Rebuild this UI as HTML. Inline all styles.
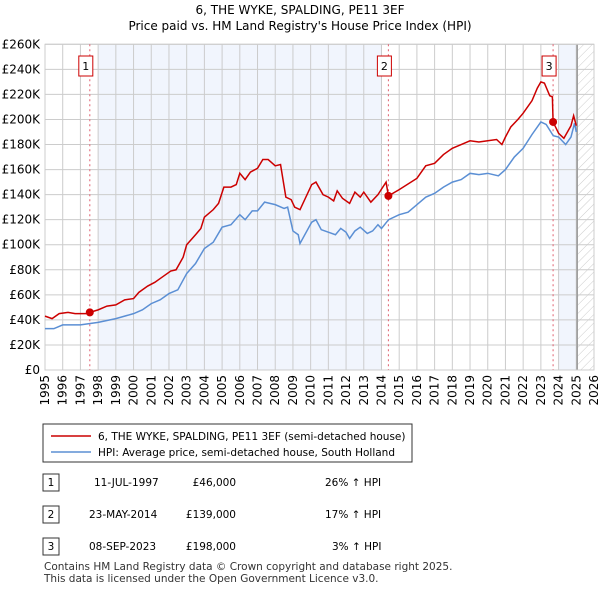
<!DOCTYPE html>
<html><head><meta charset="utf-8"><style>
body{margin:0;background:#fff;font-family:"Liberation Sans","DejaVu Sans",sans-serif;}
svg text{font-family:"DejaVu Sans","Liberation Sans",sans-serif;}
</style></head><body>
<svg id="c" width="600" height="590" xmlns="http://www.w3.org/2000/svg">
<defs><pattern id="h" width="6" height="6" patternUnits="userSpaceOnUse" patternTransform="rotate(45)"><line x1="0" y1="0" x2="0" y2="6" stroke="#ccc" stroke-width="1"/></pattern></defs>
<text x="300" y="14" text-anchor="middle" font-size="12">6, THE WYKE, SPALDING, PE11 3EF</text>
<text x="300" y="30" text-anchor="middle" font-size="12">Price paid vs. HM Land Registry's House Price Index (HPI)</text>
<g id="plot"></g>
<rect x="43" y="424" width="369" height="38" fill="#fff" stroke="#333"/>
<line x1="51" y1="436" x2="91" y2="436" stroke="#cc0000" stroke-width="1.5"/>
<text x="98" y="440" font-size="10.5">6, THE WYKE, SPALDING, PE11 3EF (semi-detached house)</text>
<line x1="51" y1="452" x2="91" y2="452" stroke="#5b8fd4" stroke-width="1.5"/>
<text x="98" y="456" font-size="10.5">HPI: Average price, semi-detached house, South Holland</text>
<g font-size="10.5">
<rect x="43" y="474" width="16" height="17" fill="#fff" stroke="#333"/><text x="51" y="486" text-anchor="middle">1</text>
<text x="94" y="486">11-JUL-1997</text><text x="236" y="486" text-anchor="end">£46,000</text><text x="325" y="486">26% ↑ HPI</text>
<rect x="43" y="506" width="16" height="17" fill="#fff" stroke="#333"/><text x="51" y="518" text-anchor="middle">2</text>
<text x="89" y="518">23-MAY-2014</text><text x="236" y="518" text-anchor="end">£139,000</text><text x="325" y="518">17% ↑ HPI</text>
<rect x="43" y="538" width="16" height="17" fill="#fff" stroke="#333"/><text x="51" y="550" text-anchor="middle">3</text>
<text x="89" y="550">08-SEP-2023</text><text x="236" y="550" text-anchor="end">£198,000</text><text x="332" y="550">3% ↑ HPI</text>
</g>
<text x="44" y="570" font-size="10.5" fill="#333">Contains HM Land Registry data © Crown copyright and database right 2025.</text>
<text x="44" y="582" font-size="10.5" fill="#333">This data is licensed under the Open Government Licence v3.0.</text>
</svg>
<script>
const priceYears=[1995,1995.4,1995.8,1996.3,1996.7,1997.3,1997.53,1998,1998.5,1999,1999.5,2000,2000.3,2000.8,2001.2,2001.6,2002.1,2002.4,2002.8,2003,2003.5,2003.8,2004,2004.5,2004.8,2005.1,2005.5,2005.8,2006,2006.3,2006.6,2007,2007.3,2007.6,2008,2008.3,2008.6,2008.9,2009.1,2009.4,2010.06,2010.3,2010.7,2011,2011.3,2011.5,2011.8,2012.2,2012.5,2012.8,2013,2013.4,2013.8,2014.26,2014.39,2015,2016,2016.5,2017,2017.5,2018,2018.5,2019,2019.5,2020,2020.5,2020.8,2021,2021.3,2021.7,2022,2022.5,2022.8,2023,2023.2,2023.5,2023.65,2023.69,2024,2024.3,2024.7,2024.85,2025];
const priceVals=[43,41,45,46,45,45,46,48,51,52,56,57,62,67,70,74,79,80,90,100,108,113,122,128,133,146,146,148,157,152,158,161,168,168,163,164,138,136,130,128,148,150,140,138,135,143,137,133,142,138,142,134,140,150,139,144,153,163,165,172,177,180,183,182,183,184,180,186,194,200,205,215,225,230,229,219,218,198,189,185,195,203,195];
const hpiYears=[1995,1995.5,1996,1997,1997.5,1998,1999,2000,2000.5,2001,2001.5,2002,2002.5,2003,2003.5,2004,2004.5,2005,2005.5,2006,2006.3,2006.7,2007,2007.4,2007.7,2008,2008.5,2008.7,2009,2009.3,2009.4,2010.06,2010.3,2010.6,2011,2011.4,2011.7,2012,2012.2,2012.5,2012.8,2013.2,2013.5,2013.8,2014,2014.4,2015,2015.5,2016,2016.5,2017,2017.5,2018,2018.5,2019,2019.5,2020,2020.6,2021,2021.5,2022,2022.5,2023,2023.3,2023.7,2024,2024.4,2024.7,2024.9,2025];
const hpiVals=[33,33,36,36,37,38,41,45,48,53,56,61,64,77,85,97,102,114,116,124,120,127,127,134,133,132,129,130,111,108,101,118,120,112,110,108,113,110,105,111,114,109,111,116,113,120,124,126,132,138,141,146,150,152,157,156,157,155,160,170,177,188,198,196,187,186,180,186,197,190];
const saleYears=[1997.53,2014.39,2023.69];
const saleVals=[46,139,198];
const saleLabels=["1","2","3"];
const yTicks=[0,20,40,60,80,100,120,140,160,180,200,220,240,260];
const xTicks=[1995,1996,1997,1998,1999,2000,2001,2002,2003,2004,2005,2006,2007,2008,2009,2010,2011,2012,2013,2014,2015,2016,2017,2018,2019,2020,2021,2022,2023,2024,2025,2026];
const shades=[[1998,2014],[2024,2025.05]];
const L=45,R=594,T=44.3,B=370;
const X=y=>L+(y-1995)/31*(R-L);
const Y=v=>B-v/260*(B-T);
const NS="http://www.w3.org/2000/svg";
const g=document.getElementById('plot');
function mk(t,a){const e=document.createElementNS(NS,t);for(const k in a)e.setAttribute(k,a[k]);g.appendChild(e);return e;}
shades.forEach(s=>{const e=mk('rect',{x:X(s[0]),y:T,width:X(s[1])-X(s[0]),height:B-T,fill:'#f1f5fd'});

});
const hx=X(2025.05);
const hr=mk('rect',{x:hx,y:T,width:R-hx,height:B-T,fill:'url(#h)'});


yTicks.forEach(v=>{const l=mk('line',{x1:L,x2:R,y1:Y(v),y2:Y(v),stroke:'#ccc'});


const t=mk('text',{x:40,y:Y(v)+4,'text-anchor':'end','font-size':'12'});t.textContent=v===0?'£0':'£'+v+'K';

});
xTicks.forEach(v=>{const l=mk('line',{x1:X(v),x2:X(v),y1:T,y2:B,stroke:'#ccc'});


const t=mk('text',{x:0,y:0,'text-anchor':'end','font-size':'12',transform:`translate(${X(v)+4},375) rotate(-90)`});t.textContent=v;

});
const vl=mk('line',{x1:hx,x2:hx,y1:T,y2:B,stroke:'#999','stroke-width':1.5});


const fr=mk('rect',{x:L,y:T,width:R-L,height:B-T,fill:'none',stroke:'#ccc'});


saleYears.forEach((y,i)=>{const l=mk('line',{x1:X(y),x2:X(y),y1:T,y2:B,stroke:'#e06070','stroke-dasharray':'2,3'});


const r=mk('rect',{x:X(y)-11,y:56,width:14,height:20,fill:'#fff',stroke:'#cc0000'});


const t=mk('text',{x:X(y)-4,y:70,'text-anchor':'middle','font-size':'11'});t.textContent=saleLabels[i];

});
const hp=mk('polyline',{points:hpiYears.map((y,i)=>X(y)+','+Y(hpiVals[i])).join(' '),fill:'none',stroke:'#5b8fd4','stroke-width':1.5});


const pp=mk('polyline',{points:priceYears.map((y,i)=>X(y)+','+Y(priceVals[i])).join(' '),fill:'none',stroke:'#cc0000','stroke-width':1.5});


saleYears.forEach((y,i)=>{const c=mk('circle',{cx:X(y),cy:Y(saleVals[i]),r:4,fill:'#cc0000'});

});
</script>
</body></html>
